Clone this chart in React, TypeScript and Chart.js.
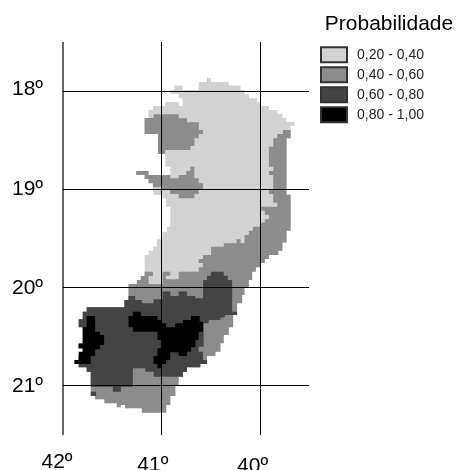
import { useEffect, useRef } from "react";
import { Chart, registerables } from "chart.js";

Chart.register(...registerables);

type P = number[];

const classLabels = ["0,20 - 0,40", "0,40 - 0,60", "0,60 - 0,80", "0,80 - 1,00"];
const classColors = ["#d2d2d2", "#8c8c8c", "#444444", "#000000"];
const lonTicks = [42, 41, 40];
const latTicks = [18, 19, 20, 21];

const northEdge: P[] = [
  [40.914,18.020],[40.914,17.980],[40.873,17.980],[40.873,17.935],[40.789,17.935],[40.789,17.980],
  [40.626,17.980],[40.626,17.898],[40.542,17.898],[40.542,17.857],[40.501,17.857],[40.501,17.898],
  [40.322,17.898],[40.322,17.935],[40.203,17.935],[40.203,17.980],[40.163,17.980],[40.163,18.020],
  [40.119,18.020],[40.119,18.065],[40.034,18.065],[40.034,18.102],[40.000,18.102],[40.000,18.143],
  [39.916,18.143],[39.916,18.184],[39.831,18.184],[39.831,18.224],[39.780,18.224],[39.780,18.265],
  [39.740,18.265],[39.740,18.306],[39.656,18.306],[39.656,18.347],[39.696,18.347],
];

const eastEdge: P[] = [
  [39.696,18.473],[39.737,18.473],[39.737,19.048],[39.696,19.048],[39.696,19.415],[39.737,19.415],
  [39.737,19.537],[39.780,19.537],[39.780,19.619],[39.821,19.619],[39.821,19.663],[39.916,19.663],
  [39.916,19.704],[39.957,19.704],[39.957,19.746],[40.007,19.746],[40.007,19.789],[40.048,19.789],
  [40.048,19.833],[40.085,19.833],[40.085,19.918],[40.119,19.918],[40.119,20.000],[40.163,20.000],
  [40.163,20.071],[40.187,20.071],[40.187,20.156],[40.238,20.156],[40.238,20.276],[40.278,20.276],
  [40.278,20.401],[40.322,20.401],[40.322,20.480],[40.373,20.480],[40.373,20.565],[40.407,20.565],
  [40.407,20.650],[40.457,20.650],[40.457,20.694],[40.542,20.694],[40.542,20.775],[40.576,20.775],
  [40.610,20.775],[40.610,20.809],[40.745,20.809],[40.745,20.854],[40.786,20.854],[40.786,20.905],
  [40.830,20.905],[40.830,20.990],[40.863,20.990],[40.863,21.102],[40.914,21.102],[40.914,21.194],
  [40.955,21.194],[40.955,21.272],[41.202,21.272],[41.202,21.228],[41.371,21.228],[41.371,21.194],
  [41.415,21.194],[41.415,21.218],[41.455,21.218],[41.455,21.177],[41.581,21.177],[41.581,21.136],
  [41.675,21.136],[41.675,21.102],[41.719,21.102],
];

const southWestEdge: P[] = [
  [41.719,20.854],[41.760,20.854],[41.760,20.809],[41.841,20.809],[41.841,20.775],[41.882,20.775],
  [41.882,20.735],[41.841,20.735],[41.841,20.684],[41.800,20.684],[41.800,20.616],[41.841,20.616],
  [41.841,20.565],[41.800,20.565],[41.800,20.401],[41.841,20.401],[41.841,20.320],[41.800,20.320],
  [41.800,20.242],[41.760,20.242],[41.760,20.197],[41.378,20.197],
];

const centerWestEdge: P[] = [
  [41.378,20.122],[41.337,20.122],[41.337,19.959],[41.252,19.959],[41.252,19.918],[41.212,19.918],
  [41.212,19.877],[41.174,19.877],
];

const northWestEdge: P[] = [
  [41.174,19.663],[41.134,19.663],[41.134,19.619],[41.090,19.619],[41.090,19.578],[41.049,19.578],
  [41.049,19.503],[40.992,19.503],[40.992,19.425],[40.948,19.425],[40.948,19.374],[40.914,19.374],
  [40.914,19.170],[40.958,19.170],[40.958,19.085],[40.992,19.085],[40.992,19.051],[41.083,19.051],
  [41.083,19.017],[41.090,19.017],[41.090,18.932],[41.134,18.932],[41.134,18.888],[41.174,18.888],
  [41.174,18.847],[41.259,18.847],[41.259,18.806],[41.134,18.806],[41.134,18.847],[40.914,18.847],
  [40.914,18.762],[40.965,18.762],[40.965,18.633],[41.039,18.633],[41.039,18.429],[41.174,18.429],
  [41.174,18.265],[41.134,18.265],[41.134,18.184],[41.090,18.184],[41.090,18.143],[40.965,18.143],
  [40.965,18.102],[40.829,18.102],[40.829,18.143],[40.789,18.143],[40.789,18.065],[40.829,18.065],
  [40.829,18.020],
];

const lightArea: P[] = [...northEdge, ...eastEdge, ...southWestEdge, ...centerWestEdge, ...northWestEdge];

const midNorthWest: P[] = [
  [41.083,18.228],[40.829,18.228],[40.829,18.269],[40.745,18.269],[40.745,18.310],[40.626,18.310],
  [40.626,18.388],[40.582,18.388],[40.582,18.429],[40.626,18.429],[40.626,18.473],[40.670,18.473],
  [40.670,18.551],[40.711,18.551],[40.711,18.592],[40.965,18.592],[40.965,18.633],[41.039,18.633],
  [41.039,18.429],[41.174,18.429],[41.174,18.265],[41.083,18.265],
];

const midArm: P[] = [
  [41.259,18.806],[41.134,18.806],[41.134,18.847],[40.914,18.847],[40.914,18.881],[40.829,18.881],
  [40.829,18.847],[40.752,18.847],[40.752,18.806],[40.711,18.806],[40.711,18.762],[40.670,18.762],
  [40.670,18.881],[40.626,18.881],[40.626,18.932],[40.582,18.932],[40.582,19.000],[40.626,19.000],
  [40.626,19.041],[40.670,19.041],[40.670,19.085],[40.829,19.085],[40.829,19.041],[40.914,19.041],
  [40.914,19.000],[40.999,19.000],[40.999,18.973],[41.090,18.973],[41.090,18.932],[41.134,18.932],
  [41.134,18.888],[41.174,18.888],[41.174,18.847],[41.259,18.847],
];

const midEastStripTop: P[] = [[39.774,18.388],[39.696,18.388]];

const midInnerEdge: P[] = [
  [41.174,19.833],[41.090,19.833],[41.090,19.877],[41.134,19.877],[41.134,19.959],[40.992,19.959],
  [40.992,19.833],[40.914,19.833],[40.914,19.874],[40.958,19.874],[40.958,19.911],[40.829,19.911],
  [40.829,19.833],[40.626,19.833],[40.626,19.789],[40.582,19.789],[40.582,19.746],[40.626,19.746],
  [40.626,19.704],[40.582,19.704],[40.582,19.663],[40.501,19.663],[40.501,19.578],[40.373,19.578],
  [40.373,19.544],[40.244,19.544],[40.244,19.503],[40.203,19.503],[40.203,19.544],[40.163,19.544],
  [40.163,19.459],[40.119,19.459],[40.119,19.415],[40.078,19.415],[40.078,19.374],[40.000,19.374],
  [40.000,19.333],[39.957,19.333],[39.957,19.299],[39.916,19.299],[39.916,19.255],[39.957,19.255],
  [39.957,19.211],[40.000,19.211],[40.000,19.170],[39.831,19.170],[39.831,19.129],[39.872,19.129],
  [39.872,19.041],[39.916,19.041],[39.916,19.000],[39.872,19.000],[39.872,18.847],[39.916,18.847],
  [39.916,18.806],[39.872,18.806],[39.872,18.762],[39.916,18.762],[39.916,18.558],[39.872,18.558],
  [39.872,18.473],[39.831,18.473],[39.831,18.429],[39.774,18.429],
];

const midMain: P[] = [...midEastStripTop, ...eastEdge, ...southWestEdge, ...centerWestEdge, ...midInnerEdge];

const darkMain: P[] = [
  [41.378,20.122],[41.337,20.122],[41.337,20.082],[41.269,20.082],[41.269,20.122],[41.202,20.122],
  [41.202,20.156],[41.083,20.156],[41.083,20.116],[40.992,20.116],[40.992,20.037],[40.914,20.037],
  [40.914,20.082],[40.830,20.082],[40.830,20.037],[40.745,20.037],[40.745,20.082],[40.660,20.082],
  [40.660,20.105],[40.582,20.105],[40.582,19.918],[40.542,19.918],[40.542,19.874],[40.501,19.874],
  [40.501,19.833],[40.373,19.833],[40.373,19.874],[40.332,19.874],[40.332,19.918],[40.288,19.918],
  [40.288,20.242],[40.238,20.242],[40.238,20.276],[40.322,20.276],[40.363,20.276],[40.363,20.300],
  [40.407,20.300],[40.407,20.327],[40.525,20.327],[40.525,20.360],[40.576,20.360],[40.576,20.599],
  [40.627,20.599],[40.627,20.650],[40.583,20.650],[40.583,20.735],[40.542,20.735],[40.542,20.775],
  [40.610,20.775],[40.610,20.809],[40.745,20.809],[40.745,20.854],[40.786,20.854],[40.786,20.905],
  [41.083,20.905],[41.083,20.854],[41.168,20.854],[41.168,20.820],[41.293,20.820],[41.293,21.007],
  [41.415,21.007],[41.415,21.058],[41.496,21.058],[41.496,21.007],[41.719,21.007],
  ...southWestEdge,
];

const darkSouthSpot: P[] = [[41.719,21.058],[41.665,21.058],[41.665,21.102],[41.719,21.102]];

const blackWest: P[] = [
  [41.760,20.286],[41.675,20.286],[41.675,20.446],[41.625,20.446],[41.625,20.480],[41.584,20.480],
  [41.584,20.582],[41.625,20.582],[41.625,20.626],[41.675,20.626],[41.675,20.694],[41.719,20.694],
  [41.719,20.775],[41.882,20.775],[41.882,20.735],[41.841,20.735],[41.841,20.650],[41.800,20.650],
  [41.800,20.616],[41.841,20.616],[41.841,20.571],[41.800,20.571],[41.800,20.401],[41.760,20.401],
];

const blackCenter: P[] = [
  [41.293,20.242],[41.212,20.242],[41.212,20.286],[41.043,20.286],[41.043,20.327],[40.999,20.327],
  [40.999,20.360],[40.955,20.360],[40.955,20.401],[40.863,20.401],[40.863,20.360],[40.786,20.360],
  [40.786,20.327],[40.704,20.327],[40.704,20.286],[40.616,20.286],[40.616,20.344],[40.583,20.344],
  [40.583,20.446],[40.627,20.446],[40.627,20.531],[40.660,20.531],[40.660,20.605],[40.704,20.605],
  [40.704,20.650],[40.745,20.650],[40.745,20.694],[40.830,20.694],[40.830,20.656],[40.914,20.656],
  [40.914,20.735],[40.955,20.735],[40.955,20.775],[40.999,20.775],[40.999,20.820],[41.043,20.820],
  [41.043,20.775],[41.083,20.775],[41.083,20.694],[41.043,20.694],[41.043,20.616],[40.999,20.616],
  [40.999,20.531],[41.043,20.531],[41.043,20.446],[41.293,20.446],[41.293,20.401],[41.337,20.401],
  [41.337,20.286],[41.293,20.286],
];

const areas: [P[], number][] = [
  [lightArea, 0],
  [midNorthWest, 1],
  [midArm, 1],
  [midMain, 1],
  [darkMain, 2],
  [darkSouthSpot, 2],
  [blackWest, 3],
  [blackCenter, 3],
];

const FONT = "'Liberation Sans', Arial, sans-serif";
const xLabelShift = [[-6, 0], [-9, 3], [-8, 4]];
const yLabelShift = [[0, -3], [0, -1], [0, 0], [0, 0]];

const placement = {
  id: "placement",
  afterLayout(chart: any) {
    const l = chart.legend;
    l.left = 316; l.right = 424; l.top = 14; l.bottom = 130;
    l.width = 146; l.height = 116;
    l.draw = function () { this._draw(); };
  },
  beforeDraw(chart: any) {
    const shift = (scale: any, table: number[][]) => {
      scale.getLabelItems(chart.chartArea).forEach((item: any, i: number) => {
        if (item.options.moved) return;
        item.options.moved = true;
        item.options.translation = [
          item.options.translation[0] + table[i][0],
          item.options.translation[1] + table[i][1],
        ];
      });
    };
    shift(chart.scales.x, xLabelShift);
    shift(chart.scales.y, yLabelShift);
  },
};

export default function App() {
  const ref = useRef<HTMLCanvasElement>(null);
  useEffect(() => {
    const chart = new Chart(ref.current as HTMLCanvasElement, {
      type: "scatter",
      data: {
        datasets: areas.map(([pts, cls]) => ({
          label: classLabels[cls],
          data: pts.map(([x, y]) => ({ x, y })),
          showLine: true,
          stepped: "before",
          fill: "shape",
          backgroundColor: classColors[cls],
          borderWidth: 0,
          pointRadius: 0,
          order: 4 - cls,
        })),
      } as any,
      options: {
        responsive: false,
        animation: false,
        events: [],
        layout: { padding: { left: 0, top: 42, right: 147, bottom: 0 } },
        scales: {
          x: {
            type: "linear",
            reverse: true,
            min: 39.51,
            max: 42,
            afterFit: (s: any) => { s.height = 35; },
            afterBuildTicks: (s: any) => { s.ticks = lonTicks.map((value) => ({ value })); },
            border: { display: false },
            grid: {
              color: (c: any) => (c.tick && c.tick.value === 42 ? "#666" : "#000"),
              lineWidth: (c: any) => (c.tick && c.tick.value === 42 ? 2 : 1),
              drawTicks: false,
              z: 1,
            },
            ticks: {
              callback: (v: any) => `${v}º`,
              color: "#000",
              font: { family: FONT, size: 21 },
              padding: 15,
              maxRotation: 0,
            },
          },
          y: {
            type: "linear",
            reverse: true,
            min: 17.49,
            max: 21.5,
            afterFit: (s: any) => { s.width = 63; },
            afterBuildTicks: (s: any) => { s.ticks = latTicks.map((value) => ({ value })); },
            border: { display: false },
            grid: { color: "#000", lineWidth: 1, drawTicks: false, z: 1 },
            ticks: {
              callback: (v: any) => `${v}º`,
              color: "#000",
              font: { family: FONT, size: 21 },
              padding: 20,
            },
          },
        },
        plugins: {
          tooltip: { enabled: false },
          legend: {
            position: "chartArea",
            align: "start",
            title: {
              display: true,
              text: "Probabilidade",
              position: "center",
              color: "#000",
              font: { family: FONT, size: 21 },
              padding: { top: 0, bottom: 3 },
            },
            labels: {
              boxWidth: 26,
              boxHeight: 15,
              padding: 5,
              color: "#222",
              textAlign: "right",
              font: { family: FONT, size: 14 },
              generateLabels: () =>
                classLabels.map((text, i) => ({
                  text,
                  fillStyle: classColors[i],
                  strokeStyle: "#333",
                  lineWidth: 2,
                  fontColor: "#222",
                  textAlign: "right",
                  datasetIndex: i,
                })),
            },
          },
        },
      },
      plugins: [placement],
    } as any);
    return () => chart.destroy();
  }, []);
  return (
    <div style={{ position: "absolute", left: 0, top: 0 }}>
      <canvas ref={ref} width={456} height={470} style={{ display: "block" }} />
    </div>
  );
}
